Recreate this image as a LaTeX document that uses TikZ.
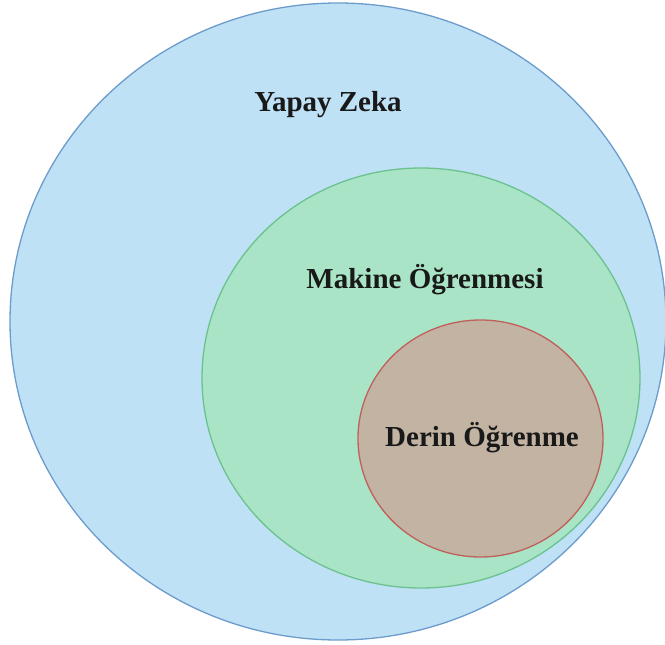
\documentclass[tikz,border=0pt]{standalone}
\usepackage{fontspec}
\setmainfont{Liberation Serif}
\definecolor{aifill}{HTML}{BEE1F5}
\definecolor{aiedge}{HTML}{6C9CCB}
\definecolor{mlfill}{HTML}{A9E4C6}
\definecolor{mledge}{HTML}{6CC28E}
\definecolor{dlfill}{HTML}{C3B3A3}
\definecolor{dledge}{HTML}{C0605A}
\tikzset{
  setlabel/.style={font=\bfseries\fontsize{29}{32}\selectfont, text=black!90, inner sep=0pt},
  setzone/.style={line width=1.3pt}
}
\begin{document}
\begin{tikzpicture}[x=1pt,y=-1pt]
  \useasboundingbox (0,0) rectangle (665,645);
  \clip (0,0) rectangle (665,645);
  \fill[white] (0,0) rectangle (665,645);
  % nested regions
  \draw[setzone, fill=aifill, draw=aiedge] (338,321.5) ellipse [x radius=328, y radius=318.5];
  \draw[setzone, fill=mlfill, draw=mledge] (421,378) ellipse [x radius=219, y radius=210];
  \draw[setzone, fill=dlfill, draw=dledge] (480.5,438.5) ellipse [x radius=122.5, y radius=118.5];
  % labels
  \node[setlabel] (ai) at (328,105) {Yapay Zeka};
  \node[setlabel] (ml) at (425,280) {Makine Öğrenmesi};
  \node[setlabel] (dl) at (482,438) {Derin Öğrenme};
\end{tikzpicture}
\end{document}
